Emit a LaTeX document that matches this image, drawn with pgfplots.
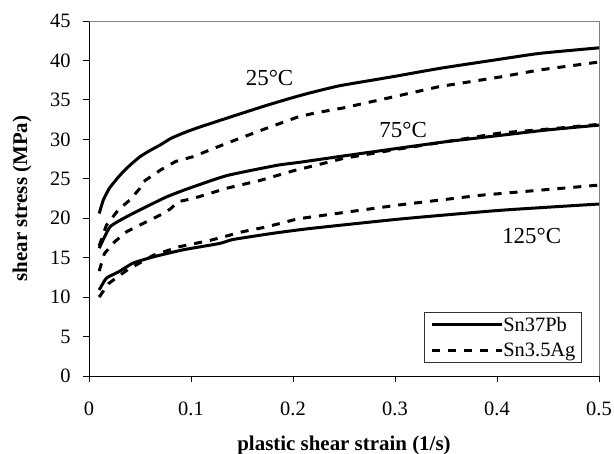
\documentclass[border=0pt]{standalone}
\usepackage{pgfplots}
\pgfplotsset{compat=1.18}
\usepackage{fontspec}
\setmainfont{Liberation Serif}
\begin{document}
\begin{tikzpicture}
\useasboundingbox (-89bp,-78bp) rectangle (525bp,376bp);
\begin{axis}[
  at={(0,0)}, anchor=south west,
  scale only axis, width=510bp, height=355bp,
  xmin=0, xmax=0.5, ymin=0, ymax=45,
  axis x line=bottom, axis y line=left,
  axis line style={-, line width=0.8pt, black},
  xtick={0,0.1,0.2,0.3,0.4,0.5},
  ytick={0,5,...,45},
  xticklabels={0,0.1,0.2,0.3,0.4,0.5},
  tick align=outside, major tick length=6bp,
  tick style={line width=0.8pt, black},
  every tick label/.append style={font=\fontsize{20.5}{24}\selectfont},
  /pgf/number format/assume math mode=true,
  xticklabel style={yshift=-16bp},
  yticklabel style={xshift=-9bp},
  xlabel={\textbf{plastic shear strain (1/s)}},
  ylabel={\textbf{shear stress (MPa)}},
  label style={font=\fontsize{21}{24}\selectfont},
  xlabel style={at={(axis description cs:0.5,0)}, anchor=center, yshift=-69bp},
  ylabel style={at={(axis description cs:0,0.5)}, anchor=center, yshift=67bp},
  legend style={at={(rel axis cs:0.657,0.037)}, anchor=south west,
    draw=black!80, line width=0.6pt, fill=white,
    font=\fontsize{20.5}{24}\selectfont,
    inner xsep=6bp, inner ysep=3bp, row sep=6bp,
    nodes={inner xsep=0bp, inner ysep=2bp}},
  legend cell align=left,
  legend image code/.code={\draw[#1] (0bp,0bp) -- (70bp,0bp);},
  clip=false,
]
\draw[black!50, line width=0.9pt] (rel axis cs:0,1) -- (rel axis cs:1,1) -- (rel axis cs:1,0);
% 25C
\addplot[black, line width=3bp, smooth, tension=0.3] coordinates {
(0.010,20.6) (0.014,22.3) (0.020,23.8) (0.030,25.4) (0.040,26.7) (0.050,27.8)
(0.060,28.6) (0.070,29.3) (0.080,30.1) (0.0925,30.8) (0.105,31.4) (0.119,32.0)
(0.145,33.1) (0.174,34.3) (0.200,35.3) (0.217,35.9) (0.246,36.8) (0.296,37.9)
(0.344,39.0) (0.400,40.1) (0.442,40.9) (0.500,41.6)};
\addlegendentry{Sn37Pb}
\addplot[black, line width=3bp, dash pattern=on 8bp off 8bp] coordinates {
(0.010,16.5) (0.017,19.1) (0.029,21.1) (0.040,22.3) (0.050,23.8) (0.053,24.6)
(0.070,26.1) (0.085,27.2) (0.102,27.8) (0.135,29.5) (0.174,31.4) (0.204,32.8)
(0.220,33.3) (0.250,34.0) (0.292,35.2) (0.344,36.7) (0.403,37.9) (0.442,38.8)
(0.500,39.8)};
\addlegendentry{Sn3.5Ag}
% 75C
\addplot[black, line width=3bp, smooth, tension=0.3, forget plot] coordinates {
(0.010,16.2) (0.0206,18.9) (0.037,20.2) (0.060,21.7) (0.076,22.7) (0.096,23.7)
(0.135,25.4) (0.184,26.7) (0.207,27.1) (0.250,27.9) (0.305,28.9) (0.350,29.7)
(0.403,30.5) (0.450,31.2) (0.500,31.8)};
\addplot[black, line width=3bp, dash pattern=on 8bp off 8bp, forget plot] coordinates {
(0.010,13.3) (0.015,15.5) (0.025,17.0) (0.037,18.3) (0.057,19.6) (0.073,20.6)
(0.080,21.2) (0.0875,22.1) (0.102,22.5) (0.135,23.8) (0.168,24.8) (0.200,26.0)
(0.250,27.6) (0.305,28.8) (0.350,29.7) (0.403,30.8) (0.450,31.3) (0.500,31.9)};
% 125C
\addplot[black, line width=3bp, smooth, tension=0.3, forget plot] coordinates {
(0.010,10.9) (0.017,12.4) (0.029,13.2) (0.043,14.3) (0.063,15.1) (0.0925,16.0)
(0.128,16.8) (0.141,17.3) (0.181,18.1) (0.217,18.7) (0.305,19.9) (0.403,21.0)
(0.500,21.8)};
\addplot[black, line width=3bp, dash pattern=on 8bp off 8bp, forget plot] coordinates {
(0.010,10.0) (0.019,11.7) (0.037,13.4) (0.063,15.3) (0.089,16.4) (0.119,17.2)
(0.151,18.3) (0.174,18.9) (0.204,19.9) (0.220,20.2) (0.305,21.7) (0.383,22.9)
(0.500,24.2)};
\node[font=\fontsize{23}{26}\selectfont] at (axis cs:0.177,37.8) {25°C};
\node[font=\fontsize{23}{26}\selectfont] at (axis cs:0.308,31.2) {75°C};
\node[font=\fontsize{23}{26}\selectfont] at (axis cs:0.434,17.7) {125°C};
\end{axis}
\end{tikzpicture}
\end{document}
